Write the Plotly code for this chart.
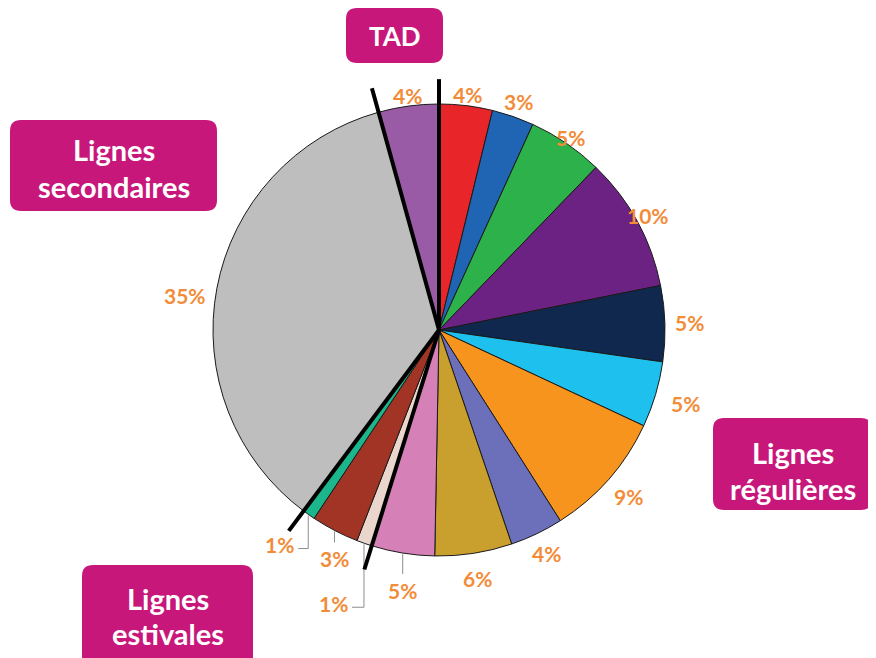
import math
import plotly.graph_objects as go

# ---------------- data ----------------
slice_names = ["Régulière 1", "Régulière 2", "Régulière 3", "Régulière 4", "Régulière 5",
               "Régulière 6", "Régulière 7", "Régulière 8", "Régulière 9", "Régulière 10",
               "Estivale 1", "Estivale 2", "Estivale 3", "Lignes secondaires", "TAD"]
shares = [3.8, 3.0, 5.4, 9.6, 5.4, 4.7, 9.0, 3.8, 5.5, 4.5, 1.1, 3.4, 0.9, 35.4, 4.3]
pct_labels = [4, 3, 5, 10, 5, 5, 9, 4, 6, 5, 1, 3, 1, 35, 4]
slice_colors = ["#E8262A", "#2064B4", "#2DB24B", "#6C2283", "#10284D", "#1EC0EE",
                "#F7941D", "#6C70BB", "#C9A02E", "#D680B8", "#EBD6CE", "#A13424",
                "#1BB68C", "#BEBEBE", "#9A5BA6"]
group_names = ["TAD", "Lignes secondaires", "Lignes régulières", "Lignes estivales"]
# indices after which a thick group separator is drawn (-1 = 12 o'clock start)
group_breaks = [-1, 9, 12, 13]

# ---------------- geometry / style ----------------
W, H = 876, 658
OFF = 8  # page body margin
cx, cy, R = 439, 330, 226
label_color = "#F28C38"
box_color = "#C8177B"
FONT = "Lato"

def to_paper(x, y):
    return (x - OFF) / W, 1 - (y - OFF) / H

total = sum(shares)
cum = []
c = 0
for v in shares:
    cum.append(c)
    c += v

def ang(frac):
    return frac / total * 2 * math.pi

def polar(theta, r):
    return cx + r * math.sin(theta), cy - r * math.cos(theta)

dx0, dy0 = to_paper(cx - R, cy + R)
dx1, dy1 = to_paper(cx + R, cy - R)
fig = go.Figure(go.Pie(
    labels=slice_names, values=shares, sort=False, direction="clockwise", rotation=0,
    marker=dict(colors=slice_colors, line=dict(color="#1a1a1a", width=1)),
    textinfo="none", hoverinfo="label+percent", showlegend=False,
    domain=dict(x=[dx0, dx1], y=[dy0, dy1]),
))

shapes = []
annotations = []

# label radial distances (px from centre) for non-leader labels
label_dist = {0: 237, 1: 242, 2: 233, 3: 238, 4: 251, 5: 257, 6: 252, 7: 248, 8: 251,
              13: 256, 14: 237}
# small angular nudges (degrees) for label placement
label_nudge = {13: -3.0}
# leader lines: index -> (drop px, hook px)
leaders = {9: (20, 0), 10: (63, 12), 11: (11, 0), 12: (33, 10)}

for i, v in enumerate(shares):
    theta = ang(cum[i] + v / 2) + math.radians(label_nudge.get(i, 0))
    txt = f"{pct_labels[i]}%"
    if i in leaders:
        drop, hook = leaders[i]
        ex, ey = polar(theta, R + 1)
        pts = [(ex, ey), (ex, ey + drop)]
        if hook:
            pts.append((ex - hook, ey + drop))
        path = "M " + " L ".join(f"{to_paper(x, y)[0]},{to_paper(x, y)[1]}" for x, y in pts)
        shapes.append(dict(type="path", path=path, xref="paper", yref="paper",
                           line=dict(color="#8c8c8c", width=1)))
        if hook:
            lx, ly = pts[-1][0] - 2, pts[-1][1] - 4
            px_, py_ = to_paper(lx, ly)
            annotations.append(dict(x=px_, y=py_, xref="paper", yref="paper", text=txt,
                                    showarrow=False, xanchor="right", yanchor="middle",
                                    font=dict(family=FONT, size=21, color=label_color, weight="bold")))
        else:
            px_, py_ = to_paper(ex, ey + drop + 16)
            annotations.append(dict(x=px_, y=py_, xref="paper", yref="paper", text=txt,
                                    showarrow=False, xanchor="center", yanchor="middle",
                                    font=dict(family=FONT, size=21, color=label_color, weight="bold")))
    else:
        lx, ly = polar(theta, label_dist[i])
        px_, py_ = to_paper(lx, ly)
        annotations.append(dict(x=px_, y=py_, xref="paper", yref="paper", text=txt,
                                showarrow=False, xanchor="center", yanchor="middle",
                                font=dict(family=FONT, size=21, color=label_color, weight="bold")))

# thick group separators
for b in group_breaks:
    frac = 0 if b < 0 else cum[b] + shares[b]
    theta = ang(frac)
    x1, y1 = polar(theta, R * 1.11)
    p0 = to_paper(cx, cy)
    p1 = to_paper(x1, y1)
    shapes.append(dict(type="line", xref="paper", yref="paper", x0=p0[0], y0=p0[1],
                       x1=p1[0], y1=p1[1], line=dict(color="black", width=4)))

def rounded_box(x0, y0, x1, y1, r):
    pts = [("M", (x0 + r, y0)), ("L", (x1 - r, y0)), ("Q", (x1, y0), (x1, y0 + r)),
           ("L", (x1, y1 - r)), ("Q", (x1, y1), (x1 - r, y1)), ("L", (x0 + r, y1)),
           ("Q", (x0, y1), (x0, y1 - r)), ("L", (x0, y0 + r)), ("Q", (x0, y0), (x0 + r, y0))]
    s = []
    for item in pts:
        cmd = item[0]
        coords = " ".join(f"{to_paper(*p)[0]:.5f},{to_paper(*p)[1]:.5f}" for p in item[1:])
        s.append(f"{cmd} {coords}")
    return " ".join(s) + " Z"

# group boxes: (name, box px, text lines with y px, font size)
boxes = [
    (group_names[0], (346, 8, 443, 63), [("TAD", 36)], 26),
    (group_names[1], (10, 120, 217, 211), [("Lignes", 149), ("secondaires", 186)], 29),
    (group_names[2], (713, 418, 872, 510), [("Lignes", 452), ("régulières", 488)], 29),
    (group_names[3], (82, 565, 253, 668), [("Lignes", 598), ("estivales", 633)], 29),
]
for name, (x0, y0, x1, y1), lines, fs in boxes:
    shapes.append(dict(type="path", path=rounded_box(x0, y0, x1, y1, 11), xref="paper",
                       yref="paper", fillcolor=box_color, line=dict(width=0), layer="above"))
    xc = (x0 + x1) / 2
    for t, yy in lines:
        px_, py_ = to_paper(xc, yy)
        annotations.append(dict(x=px_, y=py_, xref="paper", yref="paper", text=t,
                                showarrow=False, xanchor="center", yanchor="middle",
                                font=dict(family=FONT, size=fs, color="white", weight="bold")))

fig.update_layout(width=W, height=H, margin=dict(l=0, r=0, t=0, b=0),
                  paper_bgcolor="white", plot_bgcolor="white",
                  shapes=shapes, annotations=annotations)
fig.write_html("out.html")
